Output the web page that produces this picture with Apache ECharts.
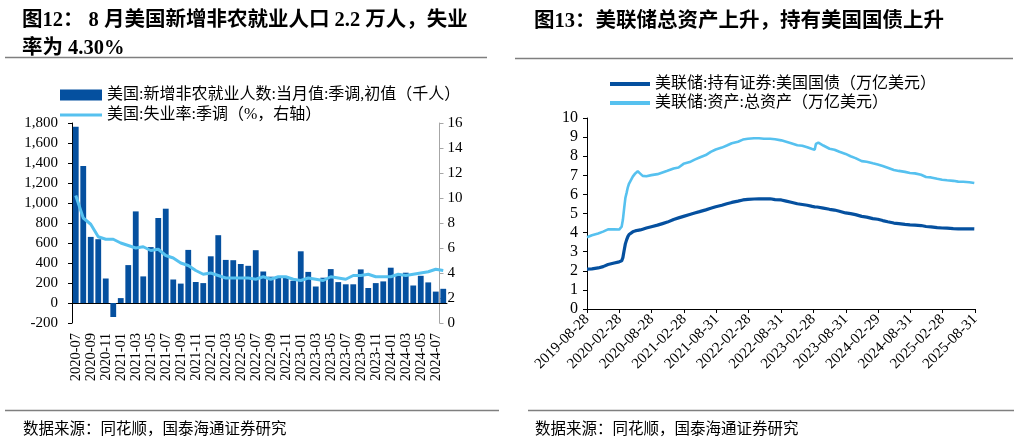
<!DOCTYPE html>
<html>
<head>
<meta charset="utf-8">
<script src="https://cdn.jsdelivr.net/npm/echarts@6/dist/echarts.min.js"></script>
<style>html,body{margin:0;padding:0;background:#fff}#c{width:1019px;height:440px}</style>
</head>
<body>
<div id="c"></div>
<script>
// ---------- Left chart data (monthly) ----------
const months = [
 '2020-07','2020-08','2020-09','2020-10','2020-11','2020-12',
 '2021-01','2021-02','2021-03','2021-04','2021-05','2021-06','2021-07','2021-08','2021-09','2021-10','2021-11','2021-12',
 '2022-01','2022-02','2022-03','2022-04','2022-05','2022-06','2022-07','2022-08','2022-09','2022-10','2022-11','2022-12',
 '2023-01','2023-02','2023-03','2023-04','2023-05','2023-06','2023-07','2023-08','2023-09','2023-10','2023-11','2023-12',
 '2024-01','2024-02','2024-03','2024-04','2024-05','2024-06','2024-07','2024-08'];
const payrolls = [
 1763,1371,661,638,245,-140,
 49,379,916,266,559,850,943,235,194,531,210,199,
 467,678,431,428,390,372,528,315,263,261,263,223,
 517,311,165,253,339,209,187,187,336,150,199,216,
 353,275,303,175,272,206,114,142];
const unemployment = [
 10.2,8.4,7.9,6.9,6.7,6.7,
 6.4,6.2,6.0,6.1,5.8,5.9,5.4,5.2,4.8,4.6,4.2,3.9,
 4.0,3.8,3.6,3.6,3.6,3.6,3.5,3.7,3.5,3.7,3.7,3.5,
 3.4,3.6,3.5,3.4,3.7,3.6,3.5,3.8,3.8,3.9,3.7,3.7,
 3.7,3.9,3.8,3.9,4.0,4.1,4.3,4.2];

// ---------- Right chart data ----------
const fedDates = [
 '2019-08-28','2019-09-25','2019-10-30','2019-11-27','2019-12-25',
 '2020-01-29','2020-02-26','2020-03-04','2020-03-11','2020-03-18','2020-03-25','2020-04-01','2020-04-08','2020-04-15','2020-04-22','2020-04-29','2020-05-13','2020-05-27','2020-06-10','2020-06-24','2020-07-08','2020-07-29','2020-08-26','2020-09-30','2020-10-28','2020-11-25','2020-12-30',
 '2021-01-27','2021-02-24','2021-03-31','2021-04-28','2021-05-26','2021-06-30','2021-07-28','2021-08-25','2021-09-29','2021-10-27','2021-11-24','2021-12-29',
 '2022-01-26','2022-02-23','2022-03-30','2022-04-27','2022-05-25','2022-06-29','2022-07-27','2022-08-31','2022-09-28','2022-10-26','2022-11-30','2022-12-28',
 '2023-01-25','2023-02-22','2023-03-08','2023-03-15','2023-03-22','2023-03-29','2023-04-26','2023-05-31','2023-06-28','2023-07-26','2023-08-30','2023-09-27','2023-10-25','2023-11-29','2023-12-27',
 '2024-01-31','2024-02-28','2024-03-27','2024-04-24','2024-05-29','2024-06-26','2024-07-31','2024-08-28','2024-09-25','2024-10-30','2024-11-27','2024-12-25',
 '2025-01-29','2025-02-26','2025-03-26','2025-04-30','2025-05-28','2025-06-25','2025-07-30','2025-08-27'];
const fedTotalAssets = [
 3.76,3.86,3.95,4.05,4.17,
 4.17,4.16,4.24,4.31,4.67,5.25,5.81,6.08,6.37,6.57,6.66,6.93,7.10,7.21,7.09,6.97,6.95,7.01,7.06,7.15,7.24,7.36,
 7.41,7.60,7.69,7.82,7.93,8.06,8.23,8.35,8.45,8.56,8.68,8.76,
 8.87,8.91,8.94,8.94,8.91,8.91,8.89,8.83,8.76,8.68,8.57,8.55,
 8.47,8.38,8.34,8.64,8.73,8.71,8.56,8.39,8.34,8.23,8.12,8.00,7.90,7.74,7.71,
 7.63,7.57,7.49,7.40,7.28,7.23,7.18,7.12,7.10,7.03,6.91,6.89,
 6.82,6.77,6.74,6.71,6.67,6.66,6.64,6.60];
const fedTreasuries = [
 2.09,2.10,2.15,2.22,2.33,
 2.41,2.47,2.50,2.52,2.69,3.06,3.41,3.62,3.79,3.90,3.96,4.04,4.09,4.12,4.14,4.18,4.24,4.31,4.39,4.47,4.55,4.69,
 4.77,4.85,4.95,5.03,5.10,5.19,5.27,5.35,5.43,5.51,5.58,5.65,
 5.71,5.74,5.76,5.77,5.77,5.77,5.73,5.71,5.65,5.59,5.51,5.47,
 5.43,5.37,5.35,5.35,5.34,5.33,5.28,5.22,5.18,5.12,5.03,4.99,4.94,4.85,4.81,
 4.73,4.70,4.63,4.57,4.50,4.47,4.43,4.40,4.39,4.37,4.32,4.30,
 4.26,4.24,4.23,4.21,4.20,4.20,4.20,4.19];
const fedTickLabels = ['2019-08-28','2020-02-28','2020-08-28','2021-02-28','2021-08-31','2022-02-28','2022-08-31','2023-02-28','2023-08-31','2024-02-29','2024-08-31','2025-02-28','2025-08-31'];

const barName = '美国:新增非农就业人数:当月值:季调,初值（千人）';
const uName = '美国:失业率:季调（%，右轴）';
const tName = '美联储:持有证券:美国国债（万亿美元）';
const aName = '美联储:资产:总资产（万亿美元）';

const DARK = '#05509F', LIGHT = '#56C1EF';
const FONT = '"Liberation Serif","Noto Sans CJK SC",serif';
const CJK = '"Liberation Serif","Noto Sans CJK SC",sans-serif';

const ts = s => { const p = s.split('-').map(Number); return Date.UTC(p[0], p[1]-1, p[2]); };
const pad = n => (n < 10 ? '0' : '') + n;
const fmtDate = v => { const d = new Date(v); return d.getUTCFullYear() + '-' + pad(d.getUTCMonth()+1) + '-' + pad(d.getUTCDate()); };
const tickTs = fedTickLabels.map(ts);

const chart = echarts.init(document.getElementById('c'), null, {renderer:'canvas'});
chart.setOption({
  animation: false,
  backgroundColor: '#fff',
  title: [
    {text: '图12： 8 月美国新增非农就业人口 2.2 万人，失业\n率为 4.30%', left: 17, top: 2,
     textStyle: {fontFamily: CJK, fontWeight: 'bold', fontSize: 20.5, lineHeight: 28, color: '#000'}},
    {text: '图13：美联储总资产上升，持有美国国债上升', left: 529, top: 6,
     textStyle: {fontFamily: CJK, fontWeight: 'bold', fontSize: 20.5, color: '#000'}},
    {text: '数据来源：同花顺，国泰海通证券研究', left: 18, top: 417,
     textStyle: {fontFamily: CJK, fontWeight: 'normal', fontSize: 15.5, color: '#000'}},
    {text: '数据来源：同花顺，国泰海通证券研究', left: 530, top: 417,
     textStyle: {fontFamily: CJK, fontWeight: 'normal', fontSize: 15.5, color: '#000'}}
  ],
  graphic: [
    {type:'line', shape:{x1:5,y1:57.5,x2:487,y2:57.5}, style:{stroke:'#7f7f7f', lineWidth:1.5}},
    {type:'line', shape:{x1:515,y1:58.5,x2:1013,y2:58.5}, style:{stroke:'#7f7f7f', lineWidth:1.5}},
    {type:'line', shape:{x1:5,y1:410.5,x2:499,y2:410.5}, style:{stroke:'#7f7f7f', lineWidth:1.5}},
    {type:'line', shape:{x1:528,y1:410.5,x2:1014,y2:410.5}, style:{stroke:'#7f7f7f', lineWidth:1.5}}
  ],
  legend: [
    {left: 55, top: 82, itemWidth: 42, itemHeight: 11, icon: 'rect', data: [barName],
     textStyle: {fontFamily: CJK, fontSize: 16, color: '#000'}},
    {left: 55, top: 102, itemWidth: 42, itemHeight: 3, icon: 'rect', data: [uName],
     textStyle: {fontFamily: CJK, fontSize: 16, color: '#000'}},
    {left: 605, top: 71, itemWidth: 40, itemHeight: 4, icon: 'rect', data: [tName],
     textStyle: {fontFamily: CJK, fontSize: 16, color: '#000'}},
    {left: 605, top: 90, itemWidth: 40, itemHeight: 4, icon: 'rect', data: [aName],
     textStyle: {fontFamily: CJK, fontSize: 16, color: '#000'}}
  ],
  grid: [
    {left: 72, top: 123, width: 375, height: 200},
    {left: 587, top: 118, width: 388, height: 191}
  ],
  xAxis: [
    {type: 'category', gridIndex: 0, data: months, boundaryGap: true,
     axisLine: {onZero: true, lineStyle: {color: '#000', width: 1}},
     axisTick: {interval: 1, length: 4, lineStyle: {color: '#000'}},
     axisLabel: {interval: 1, rotate: 90, margin: 10, fontFamily: FONT, fontSize: 14.5, color: '#000', showMinLabel: true},
     splitLine: {show: false}},
    {type: 'value', gridIndex: 1, min: ts('2019-08-28'), max: ts('2025-08-31'),
     axisLine: {onZero: false, lineStyle: {color: '#000', width: 1}},
     axisTick: {show: true, customValues: tickTs, length: 4, lineStyle: {color: '#000'}},
     axisLabel: {customValues: tickTs, rotate: 45, margin: 8, fontFamily: FONT, fontSize: 15, color: '#000',
                 formatter: v => fmtDate(v)},
     splitLine: {show: false}}
  ],
  yAxis: [
    {type: 'value', gridIndex: 0, min: -200, max: 1800, interval: 200,
     axisLine: {show: true, lineStyle: {color: '#000'}},
     axisTick: {show: true, length: 4, lineStyle: {color: '#000'}},
     axisLabel: {margin: 14, fontFamily: FONT, fontSize: 15, color: '#000',
                 formatter: v => v.toLocaleString('en-US')},
     splitLine: {show: false}},
    {type: 'value', gridIndex: 0, position: 'right', offset: -7.5, min: 0, max: 16, interval: 2,
     axisLine: {show: true, lineStyle: {color: '#A6A6A6'}},
     axisTick: {show: true, length: 4, lineStyle: {color: '#A6A6A6'}},
     axisLabel: {margin: 8, fontFamily: FONT, fontSize: 15, color: '#000'},
     splitLine: {show: false}},
    {type: 'value', gridIndex: 1, min: 0, max: 10, interval: 1,
     axisLine: {show: true, lineStyle: {color: '#000'}},
     axisTick: {show: true, length: 4, lineStyle: {color: '#000'}},
     axisLabel: {margin: 9, fontFamily: FONT, fontSize: 16, color: '#000'},
     splitLine: {show: false}}
  ],
  series: [
    {name: barName, type: 'bar', xAxisIndex: 0, yAxisIndex: 0, data: payrolls,
     barWidth: 5.8, itemStyle: {color: DARK}},
    {name: uName, type: 'line', xAxisIndex: 0, yAxisIndex: 1, data: unemployment,
     symbol: 'none', lineStyle: {color: LIGHT, width: 3}, itemStyle: {color: LIGHT}, z: 5},
    {name: tName, type: 'line', xAxisIndex: 1, yAxisIndex: 2,
     data: fedDates.map((d, i) => [ts(d), fedTreasuries[i]]),
     symbol: 'none', lineStyle: {color: DARK, width: 3.2}, itemStyle: {color: DARK}},
    {name: aName, type: 'line', xAxisIndex: 1, yAxisIndex: 2,
     data: fedDates.map((d, i) => [ts(d), fedTotalAssets[i]]),
     symbol: 'none', lineStyle: {color: LIGHT, width: 2.6}, itemStyle: {color: LIGHT}}
  ]
});
</script>
</body>
</html>
